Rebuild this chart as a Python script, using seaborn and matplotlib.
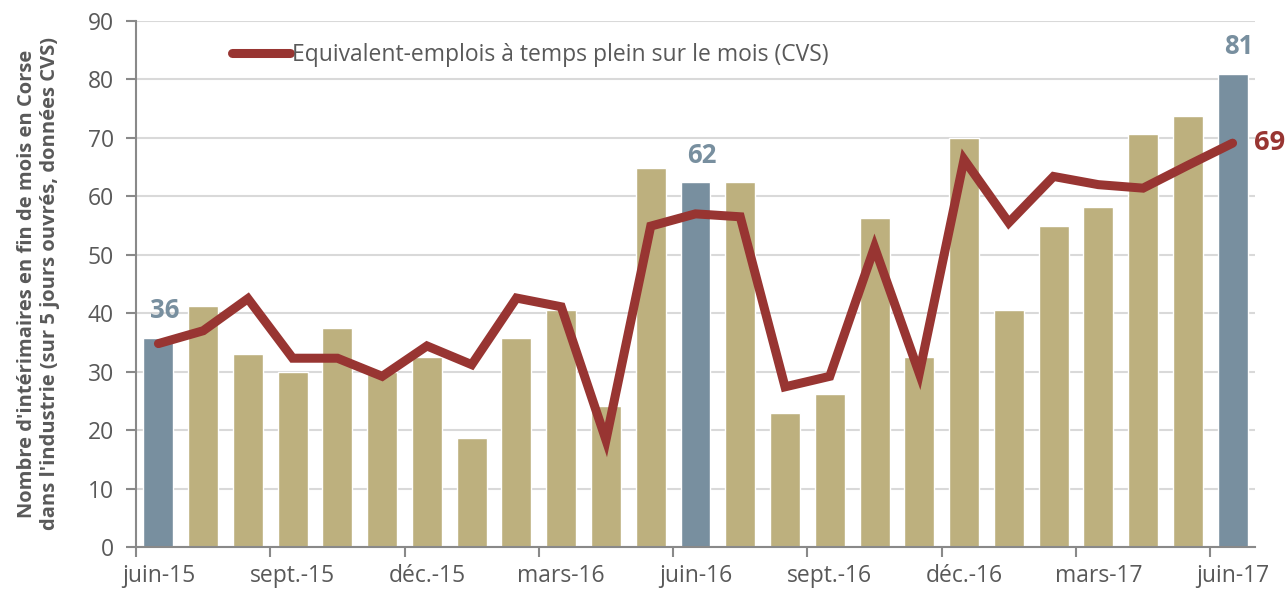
import numpy as np
import pandas as pd
import matplotlib
matplotlib.use("Agg")
import matplotlib.pyplot as plt
import seaborn as sns

# ----------------------------------------------
# Data: intérimaires dans l'industrie en Corse
# ----------------------------------------------
months = ['juin-15', 'juil.-15', 'août-15', 'sept.-15', 'oct.-15', 'nov.-15',
          'déc.-15', 'janv.-16', 'févr.-16', 'mars-16', 'avr.-16', 'mai-16',
          'juin-16', 'juil.-16', 'août-16', 'sept.-16', 'oct.-16', 'nov.-16',
          'déc.-16', 'janv.-17', 'févr.-17', 'mars-17', 'avr.-17', 'mai-17',
          'juin-17']
bar_values = [35.8, 41.3, 33.0, 29.9, 37.4, 30.0, 32.5, 18.6, 35.8, 40.6,
              24.2, 64.8, 62.4, 62.5, 22.9, 26.1, 56.3, 32.5, 70.0, 40.6,
              55.0, 58.2, 70.7, 73.7, 81.0]
line_values = [34.8, 37.0, 42.5, 32.3, 32.3, 29.2, 34.4, 31.2, 42.6, 41.1,
               18.3, 54.9, 57.0, 56.5, 27.4, 29.2, 51.3, 29.7, 66.3, 55.5,
               63.4, 62.0, 61.4, 65.3, 69.1]
highlight = ['juin-15', 'juin-16', 'juin-17']
line_label = 'Equivalent-emplois à temps plein sur le mois (CVS)'

df = pd.DataFrame({'mois': months, 'nombre': bar_values, 'etp': line_values})
df['groupe'] = np.where(df['mois'].isin(highlight), 'juin', 'autre')

bar_tan = '#BDB07E'
bar_blue = '#788F9F'
line_red = '#983532'
text_grey = '#595959'

sns.set_style("white")
plt.rcParams['font.family'] = ['Open Sans', 'DejaVu Sans']

fig = plt.figure(figsize=(12.87, 5.95), dpi=100)
ax = fig.add_axes([0.1057, 0.0807, 0.8694, 0.884])

sns.barplot(data=df, x='mois', y='nombre', hue='groupe',
            palette={'juin': bar_blue, 'autre': bar_tan},
            dodge=False, width=0.67, legend=False, saturation=1, ax=ax)
sns.lineplot(x=np.arange(len(months)), y=df['etp'], color=line_red, lw=6.5,
             solid_capstyle='round', solid_joinstyle='miter',
             label=line_label, ax=ax)

# Data labels on the June bars and the last point of the line
for m in highlight:
    i = months.index(m)
    ax.text(i + 0.14, bar_values[i] + 4.6, f"{bar_values[i]:.0f}",
            ha='center', va='center', fontsize=18.5, fontweight='bold',
            color=bar_blue)
ax.text(len(months) - 1 + 0.47, line_values[-1], f"{line_values[-1]:.0f}",
        ha='left', va='center', fontsize=19.5, fontweight='bold',
        color=line_red, clip_on=False)

# Axes
ax.set_xlim(-0.5, len(months) - 0.5)
ax.set_ylim(0, 90)
ax.set_yticks(range(0, 91, 10))
ax.yaxis.grid(True, color='#D9D9D9', lw=1.5)
ax.set_axisbelow(True)

ax.set_xticks(np.arange(0, len(months), 3) - 0.5)
ax.set_xticklabels([])
ax.set_xticks(np.arange(0, len(months), 3), minor=True)
ax.set_xticklabels(months[::3], minor=True)
ax.tick_params(axis='x', which='major', direction='out', length=7,
               width=1.5, color='#898989', bottom=True)
ax.tick_params(axis='x', which='minor', length=0, pad=12,
               labelsize=16.5, labelcolor=text_grey)
ax.tick_params(axis='y', direction='out', length=7, width=1.5,
               color='#898989', left=True, labelsize=16.5,
               labelcolor=text_grey, pad=9)

for side in ['top', 'right']:
    ax.spines[side].set_visible(False)
for side in ['left', 'bottom']:
    ax.spines[side].set_color('#898989')
    ax.spines[side].set_linewidth(1.5)

ax.set_xlabel('')
ax.set_ylabel("Nombre d'intérimaires en fin de mois en Corse\n"
              "dans l'industrie (sur 5 jours ouvrés, données CVS)",
              fontsize=14.5, fontweight='bold', color=text_grey)
ax.yaxis.set_label_coords(-0.068, 0.5)

ax.legend(loc='center left', bbox_to_anchor=(0.086, 0.935), frameon=False,
          fontsize=16.5, handlelength=2.5, handletextpad=0.1,
          borderaxespad=0, borderpad=0, labelcolor=text_grey)

plt.savefig('out.png', dpi=100)
